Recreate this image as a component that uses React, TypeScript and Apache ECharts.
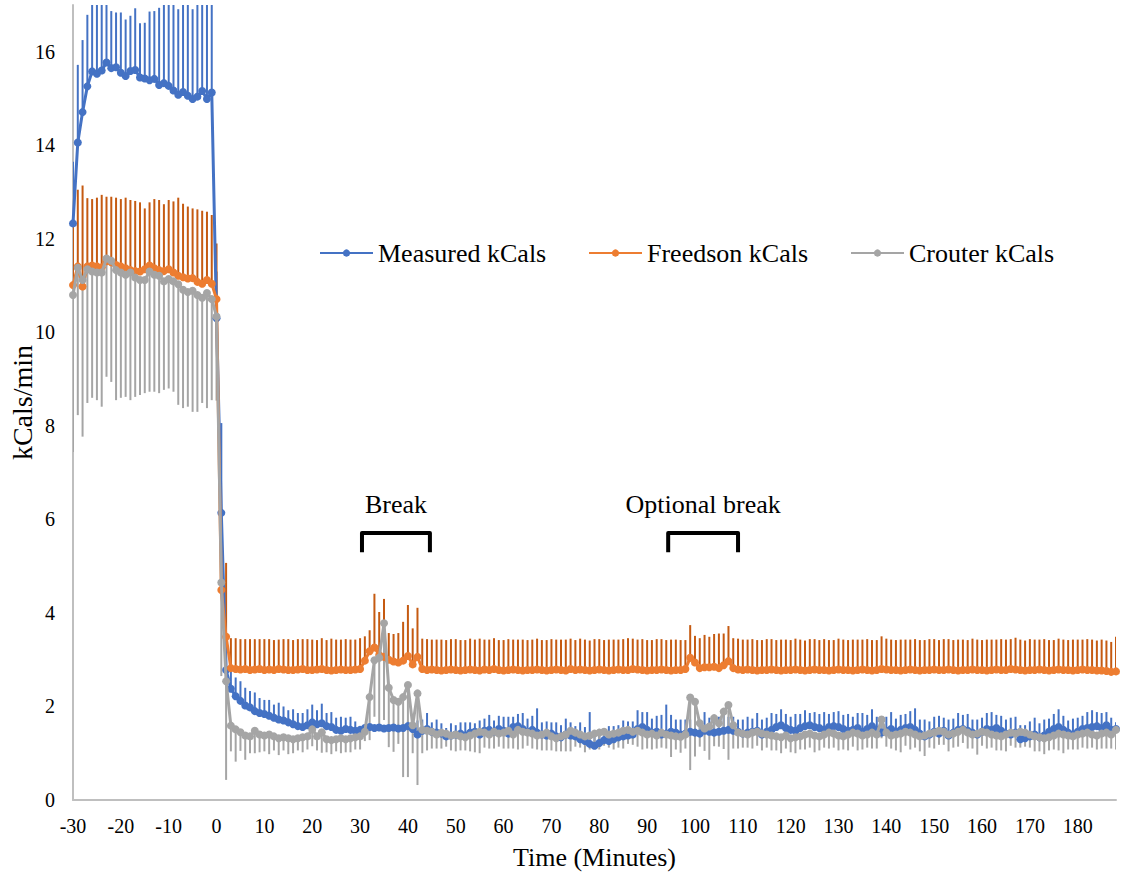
import React, { useEffect, useRef } from "react";
import * as echarts from "echarts";

// Energy expenditure per minute, one value per minute from -30 to 188.
const START_MINUTE = -30;

const measuredKcal = [
  12.33, 14.06, 14.71, 15.26, 15.58, 15.53, 15.60, 15.77, 15.65, 15.67,
  15.55, 15.48, 15.59, 15.61, 15.45, 15.43, 15.39, 15.42, 15.29, 15.33,
  15.27, 15.17, 15.08, 15.14, 15.06, 14.99, 15.04, 15.16, 14.99, 15.13,
  10.30, 6.14, 2.78, 2.38, 2.22, 2.12, 2.02, 1.98, 1.90, 1.86,
  1.84, 1.80, 1.76, 1.72, 1.70, 1.66, 1.62, 1.58, 1.56, 1.60,
  1.66, 1.62, 1.64, 1.58, 1.56, 1.50, 1.48, 1.52, 1.50, 1.48,
  1.50, 1.54, 1.56, 1.54, 1.55, 1.53, 1.54, 1.55, 1.53, 1.54,
  1.58, 1.52, 1.40, 1.48, 1.52, 1.46, 1.44, 1.42, 1.36, 1.38,
  1.40, 1.42, 1.38, 1.44, 1.46, 1.40, 1.48, 1.50, 1.46, 1.52,
  1.48, 1.42, 1.56, 1.58, 1.52, 1.46, 1.50, 1.44, 1.40, 1.38,
  1.42, 1.36, 1.34, 1.40, 1.38, 1.36, 1.30, 1.26, 1.20, 1.16,
  1.22, 1.28, 1.26, 1.30, 1.34, 1.36, 1.38, 1.40, 1.52, 1.56,
  1.50, 1.44, 1.46, 1.40, 1.42, 1.46, 1.44, 1.40, 1.42, 1.46,
  1.44, 1.42, 1.48, 1.46, 1.44, 1.46, 1.48, 1.50, 1.48, 1.46,
  1.42, 1.44, 1.46, 1.48, 1.40, 1.46, 1.50, 1.56, 1.60, 1.54,
  1.50, 1.48, 1.54, 1.58, 1.60, 1.56, 1.54, 1.50, 1.56, 1.58,
  1.56, 1.52, 1.48, 1.50, 1.54, 1.46, 1.52, 1.58, 1.50, 1.44,
  1.48, 1.52, 1.46, 1.50, 1.54, 1.56, 1.50, 1.42, 1.36, 1.40,
  1.46, 1.42, 1.48, 1.38, 1.44, 1.50, 1.52, 1.48, 1.44, 1.40,
  1.46, 1.52, 1.50, 1.54, 1.48, 1.42, 1.40, 1.44, 1.30, 1.32,
  1.36, 1.40, 1.34, 1.38, 1.46, 1.52, 1.56, 1.50, 1.44, 1.40,
  1.46, 1.52, 1.54, 1.56, 1.58, 1.54, 1.60, 1.50, 1.52,
];

const measuredErr = [
  1.32, 1.66, 1.54, 1.53, 1.90, 2.10, 1.80, 1.60, 1.22, 1.17,
  1.29, 1.21, 1.18, 1.32, 1.16, 1.19, 1.47, 1.45, 1.65, 1.90,
  1.95, 2.00, 1.83, 2.10, 2.20, 1.92, 2.20, 2.30, 2.40, 2.30,
  1.00, 1.92, 0.70, 0.45, 0.40, 0.42, 0.38, 0.35, 0.40, 0.32,
  0.30, 0.34, 0.28, 0.36, 0.30, 0.26, 0.32, 0.28, 0.30, 0.34,
  0.38, 0.30, 0.42, 0.28, 0.32, 0.26, 0.30, 0.24, 0.28, 0.20,
  0.06, 0.08, 0.05, 0.06, 0.05, 0.07, 0.05, 0.06, 0.05, 0.06,
  0.10, 0.08, 0.30, 0.24, 0.34, 0.20, 0.28, 0.22, 0.18, 0.26,
  0.20, 0.24, 0.28, 0.22, 0.18, 0.30, 0.26, 0.32, 0.24, 0.28,
  0.30, 0.36, 0.22, 0.26, 0.34, 0.28, 0.30, 0.52, 0.26, 0.30,
  0.24, 0.30, 0.26, 0.34, 0.28, 0.22, 0.36, 0.30, 0.68, 0.26,
  0.30, 0.24, 0.32, 0.28, 0.26, 0.34, 0.30, 0.28, 0.40, 0.32,
  0.38, 0.30, 0.34, 0.42, 0.62, 0.36, 0.28, 0.32, 0.30, 0.26,
  0.34, 0.28, 0.40, 0.30, 0.26, 0.32, 0.36, 0.28, 0.30, 0.26,
  0.30, 0.34, 0.28, 0.38, 0.32, 0.30, 0.36, 0.28, 0.34, 0.30,
  0.28, 0.36, 0.30, 0.34, 0.26, 0.32, 0.30, 0.38, 0.28, 0.30,
  0.34, 0.30, 0.36, 0.28, 0.32, 0.40, 0.30, 0.36, 0.28, 0.34,
  0.30, 0.36, 0.28, 0.32, 0.30, 0.34, 0.46, 0.30, 0.36, 0.28,
  0.32, 0.38, 0.28, 0.34, 0.30, 0.36, 0.30, 0.36, 0.28, 0.32,
  0.30, 0.34, 0.38, 0.28, 0.32, 0.30, 0.36, 0.34, 0.30, 0.28,
  0.32, 0.36, 0.30, 0.34, 0.28, 0.32, 0.38, 0.30, 0.26, 0.34,
  0.30, 0.28, 0.34, 0.36, 0.30, 0.32, 0.28, 0.26, 0.14,
];

const freedsonKcal = [
  11.01, 11.41, 10.98, 11.41, 11.43, 11.41, 11.39, 11.52, 11.50, 11.44,
  11.41, 11.37, 11.33, 11.31, 11.30, 11.35, 11.43, 11.37, 11.33, 11.31,
  11.35, 11.28, 11.21, 11.18, 11.15, 11.16, 11.08, 11.04, 11.12, 11.04,
  10.71, 4.49, 3.49, 2.82, 2.80, 2.79, 2.80, 2.78, 2.79, 2.80,
  2.78, 2.79, 2.78, 2.80, 2.79, 2.78, 2.78, 2.79, 2.80, 2.78,
  2.78, 2.79, 2.80, 2.78, 2.77, 2.78, 2.79, 2.78, 2.78, 2.79,
  2.80, 2.98, 3.18, 3.26, 3.10, 3.06, 3.00, 2.96, 2.94, 2.98,
  3.08, 2.90, 3.06, 2.80, 2.78, 2.79, 2.78, 2.77, 2.78, 2.79,
  2.78, 2.77, 2.78, 2.79, 2.78, 2.77, 2.79, 2.78, 2.80, 2.78,
  2.77, 2.78, 2.79, 2.78, 2.77, 2.78, 2.78, 2.79, 2.78, 2.77,
  2.78, 2.79, 2.78, 2.77, 2.80, 2.78, 2.79, 2.78, 2.77, 2.78,
  2.79, 2.78, 2.77, 2.78, 2.79, 2.78, 2.78, 2.80, 2.79, 2.78,
  2.77, 2.78, 2.78, 2.79, 2.78, 2.77, 2.78, 2.78, 2.80, 3.04,
  2.94, 2.82, 2.84, 2.84, 2.85, 2.82, 2.88, 2.97, 2.82, 2.79,
  2.78, 2.79, 2.78, 2.77, 2.78, 2.78, 2.79, 2.78, 2.77, 2.78,
  2.78, 2.79, 2.78, 2.77, 2.78, 2.79, 2.78, 2.78, 2.77, 2.78,
  2.79, 2.78, 2.78, 2.77, 2.78, 2.79, 2.78, 2.77, 2.78, 2.80,
  2.79, 2.78, 2.78, 2.77, 2.78, 2.79, 2.78, 2.77, 2.78, 2.78,
  2.79, 2.78, 2.78, 2.79, 2.78, 2.77, 2.78, 2.78, 2.79, 2.78,
  2.78, 2.77, 2.78, 2.79, 2.78, 2.78, 2.80, 2.79, 2.78, 2.77,
  2.78, 2.78, 2.79, 2.78, 2.77, 2.78, 2.79, 2.78, 2.78, 2.77,
  2.78, 2.79, 2.78, 2.78, 2.77, 2.77, 2.76, 2.74, 2.75,
];

const freedsonErr = [
  1.82, 1.64, 2.16, 1.46, 1.42, 1.47, 1.55, 1.38, 1.40, 1.44,
  1.44, 1.51, 1.50, 1.50, 1.48, 1.30, 1.35, 1.48, 1.50, 1.43,
  1.48, 1.52, 1.67, 1.57, 1.54, 1.49, 1.55, 1.56, 1.46, 1.47,
  1.19, 0.60, 1.58, 0.64, 0.66, 0.65, 0.64, 0.66, 0.65, 0.64,
  0.66, 0.65, 0.64, 0.63, 0.65, 0.66, 0.64, 0.65, 0.64, 0.66,
  0.65, 0.63, 0.66, 0.64, 0.68, 0.65, 0.64, 0.66, 0.65, 0.64,
  0.66, 0.52, 0.45, 1.15, 0.92, 1.24, 0.57, 0.59, 0.63, 0.83,
  1.09, 0.77, 1.05, 0.65, 0.66, 0.64, 0.65, 0.66, 0.64, 0.65,
  0.66, 0.65, 0.64, 0.66, 0.65, 0.68, 0.64, 0.65, 0.66, 0.64,
  0.65, 0.66, 0.64, 0.65, 0.66, 0.64, 0.65, 0.66, 0.64, 0.65,
  0.66, 0.64, 0.65, 0.66, 0.65, 0.64, 0.66, 0.65, 0.64, 0.66,
  0.65, 0.64, 0.66, 0.65, 0.64, 0.66, 0.68, 0.65, 0.64, 0.66,
  0.65, 0.64, 0.66, 0.65, 0.64, 0.66, 0.65, 0.64, 0.62, 0.70,
  0.57, 0.64, 0.69, 0.65, 0.70, 0.74, 0.68, 0.75, 0.64, 0.66,
  0.65, 0.64, 0.66, 0.65, 0.64, 0.66, 0.65, 0.64, 0.66, 0.65,
  0.64, 0.66, 0.65, 0.64, 0.66, 0.65, 0.64, 0.66, 0.65, 0.64,
  0.66, 0.65, 0.64, 0.66, 0.65, 0.64, 0.66, 0.65, 0.64, 0.70,
  0.66, 0.65, 0.64, 0.66, 0.65, 0.64, 0.66, 0.65, 0.64, 0.66,
  0.65, 0.64, 0.66, 0.65, 0.64, 0.66, 0.65, 0.64, 0.66, 0.65,
  0.64, 0.66, 0.65, 0.64, 0.66, 0.65, 0.64, 0.68, 0.65, 0.64,
  0.66, 0.65, 0.64, 0.66, 0.65, 0.64, 0.66, 0.65, 0.64, 0.66,
  0.65, 0.64, 0.66, 0.65, 0.64, 0.66, 0.65, 0.64, 0.74,
];

const crouterKcal = [
  10.80, 11.38, 11.12, 11.35, 11.30, 11.28, 11.28, 11.58, 11.53, 11.33,
  11.28, 11.23, 11.28, 11.17, 11.12, 11.12, 11.30, 11.23, 11.21, 11.09,
  11.14, 11.09, 11.03, 10.91, 10.86, 10.89, 10.80, 10.74, 10.84, 10.71,
  10.34, 4.65, 2.54, 1.59, 1.51, 1.45, 1.38, 1.36, 1.48, 1.40,
  1.38, 1.40, 1.36, 1.32, 1.34, 1.32, 1.30, 1.32, 1.34, 1.36,
  1.51, 1.36, 1.45, 1.30, 1.28, 1.30, 1.32, 1.30, 1.32, 1.34,
  1.36, 1.46, 2.20, 2.99, 3.04, 3.78, 2.40, 2.14, 2.10, 2.20,
  2.46, 1.60, 2.28, 1.50, 1.48, 1.46, 1.40, 1.44, 1.42, 1.38,
  1.40, 1.36, 1.34, 1.38, 1.42, 1.46, 1.44, 1.40, 1.46, 1.42,
  1.44, 1.48, 1.40, 1.50, 1.46, 1.44, 1.42, 1.38, 1.40, 1.44,
  1.36, 1.32, 1.36, 1.40, 1.48, 1.44, 1.40, 1.36, 1.38, 1.42,
  1.44, 1.46, 1.40, 1.42, 1.44, 1.48, 1.50, 1.46, 1.48, 1.44,
  1.40, 1.42, 1.38, 1.44, 1.40, 1.38, 1.36, 1.35, 1.40, 2.19,
  2.10, 1.64, 1.53, 1.57, 1.75, 1.64, 1.89, 2.03, 1.60, 1.44,
  1.42, 1.40, 1.44, 1.46, 1.42, 1.40, 1.38, 1.36, 1.34, 1.38,
  1.32, 1.34, 1.36, 1.40, 1.42, 1.38, 1.36, 1.40, 1.44, 1.42,
  1.38, 1.36, 1.40, 1.44, 1.42, 1.38, 1.40, 1.44, 1.40, 1.72,
  1.44, 1.38, 1.40, 1.42, 1.46, 1.44, 1.40, 1.36, 1.38, 1.42,
  1.44, 1.48, 1.46, 1.40, 1.42, 1.46, 1.50, 1.44, 1.40, 1.42,
  1.46, 1.44, 1.40, 1.38, 1.36, 1.40, 1.44, 1.42, 1.46, 1.44,
  1.40, 1.36, 1.34, 1.32, 1.34, 1.38, 1.42, 1.40, 1.38, 1.36,
  1.40, 1.42, 1.44, 1.40, 1.38, 1.42, 1.44, 1.40, 1.50,
];

const crouterErr = [
  3.36, 3.15, 3.35, 2.86, 2.70, 2.73, 2.87, 2.53, 2.59, 2.78,
  2.68, 2.61, 2.73, 2.55, 2.46, 2.42, 2.57, 2.50, 2.51, 2.32,
  2.34, 2.36, 2.58, 2.53, 2.45, 2.59, 2.50, 2.25, 2.46, 2.16,
  1.80, 2.00, 2.11, 0.55, 0.69, 0.40, 0.52, 0.36, 0.48, 0.38,
  0.34, 0.42, 0.30, 0.36, 0.28, 0.34, 0.30, 0.26, 0.32, 0.28,
  0.36, 0.30, 0.44, 0.28, 0.30, 0.26, 0.32, 0.28, 0.30, 0.26,
  0.28, 0.20, 0.92, 1.21, 1.54, 2.07, 1.27, 1.11, 0.90, 1.71,
  1.97, 0.60, 1.96, 0.50, 0.42, 0.36, 0.30, 0.34, 0.28, 0.32,
  0.36, 0.30, 0.28, 0.34, 0.40, 0.46, 0.32, 0.30, 0.36, 0.28,
  0.34, 0.38, 0.30, 0.42, 0.36, 0.28, 0.32, 0.30, 0.34, 0.38,
  0.30, 0.28, 0.32, 0.36, 0.44, 0.30, 0.28, 0.34, 0.30, 0.32,
  0.36, 0.30, 0.28, 0.34, 0.32, 0.38, 0.30, 0.28, 0.34, 0.36,
  0.30, 0.34, 0.28, 0.32, 0.30, 0.46, 0.28, 0.34, 0.30, 1.55,
  1.17, 0.50, 0.48, 0.71, 0.60, 0.50, 0.80, 1.17, 0.50, 0.34,
  0.30, 0.28, 0.34, 0.30, 0.36, 0.28, 0.32, 0.30, 0.34, 0.28,
  0.30, 0.34, 0.28, 0.32, 0.30, 0.36, 0.30, 0.28, 0.34, 0.30,
  0.32, 0.28, 0.34, 0.30, 0.36, 0.30, 0.28, 0.34, 0.30, 0.40,
  0.30, 0.28, 0.34, 0.40, 0.30, 0.36, 0.28, 0.32, 0.44, 0.30,
  0.34, 0.30, 0.28, 0.36, 0.30, 0.32, 0.28, 0.34, 0.30, 0.45,
  0.30, 0.34, 0.28, 0.32, 0.30, 0.36, 0.28, 0.30, 0.34, 0.30,
  0.28, 0.32, 0.30, 0.34, 0.28, 0.30, 0.36, 0.40, 0.30, 0.28,
  0.32, 0.30, 0.34, 0.28, 0.30, 0.32, 0.34, 0.30, 0.42,
];

const minutes = measuredKcal.map((_, i) => START_MINUTE + i);

// Rest periods marked with a bracket above the curves (minutes).
const breaks = [
  { label: "Break", from: 30.4, to: 44.6 },
  { label: "Optional break", from: 94.4, to: 109.0 },
];

const FONT = "'Liberation Serif', 'Times New Roman', serif";
const AXIS_GRAY = "#BFBFBF";

const BRACKET_LOW = 5.3;
const BRACKET_HIGH = 5.71;
const BRACKET_LABEL_Y = 6.32;

type SeriesDef = {
  name: string;
  values: number[];
  errs: number[];
  dir: 1 | -1;
  color: string;
  barColor: string;
};

const seriesDefs: SeriesDef[] = [
  { name: "Measured kCals", values: measuredKcal, errs: measuredErr, dir: 1, color: "#4472C4", barColor: "#4472C4" },
  { name: "Freedson kCals", values: freedsonKcal, errs: freedsonErr, dir: 1, color: "#ED7D31", barColor: "#C55A11" },
  { name: "Crouter kCals", values: crouterKcal, errs: crouterErr, dir: -1, color: "#A5A5A5", barColor: "#A5A5A5" },
];

const legendLeft = [319, 588, 850];

function errorBars(def: SeriesDef) {
  return {
    type: "custom",
    name: def.name + " SD",
    silent: true,
    clip: true,
    z: 1,
    encode: { x: 0, y: [1, 2] },
    data: def.values.map((v, i) => [minutes[i], v, v + def.dir * def.errs[i]]),
    renderItem: (_params: any, api: any) => {
      const a = api.coord([api.value(0), api.value(1)]);
      const b = api.coord([api.value(0), api.value(2)]);
      return {
        type: "line",
        shape: { x1: a[0], y1: a[1], x2: b[0], y2: b[1] },
        style: { stroke: def.barColor, lineWidth: 2 },
      };
    },
  };
}

function lineSeries(def: SeriesDef, idx: number) {
  return {
    type: "line",
    name: def.name,
    z: 3 + idx,
    symbol: "circle",
    symbolSize: 8,
    showSymbol: true,
    lineStyle: { color: def.color, width: 3 },
    itemStyle: { color: def.color },
    emphasis: { disabled: true },
    data: def.values.map((v, i) => [minutes[i], v]),
  };
}

export default function App() {
  const ref = useRef<HTMLDivElement>(null);

  useEffect(() => {
    if (!ref.current) return;
    const chart = echarts.init(ref.current, null, { renderer: "svg" });

    const bracketSeries = {
      type: "custom",
      silent: true,
      z: 10,
      clip: false,
      data: breaks.map((b) => [b.from, b.to]),
      renderItem: (params: any, api: any) => {
        const from = api.value(0);
        const to = api.value(1);
        const p1 = api.coord([from, BRACKET_LOW]);
        const p2 = api.coord([from, BRACKET_HIGH]);
        const p3 = api.coord([to, BRACKET_HIGH]);
        const p4 = api.coord([to, BRACKET_LOW]);
        const ly = api.coord([from, BRACKET_LABEL_Y])[1];
        return {
          type: "group",
          children: [
            {
              type: "polyline",
              shape: { points: [p1, p2, p3, p4] },
              style: { stroke: "#000", lineWidth: 4, fill: null, lineJoin: "round", lineCap: "butt" },
            },
            {
              type: "text",
              x: (p2[0] + p3[0]) / 2,
              y: ly,
              style: {
                text: breaks[params.dataIndex].label,
                fontFamily: FONT,
                fontSize: 26,
                fill: "#000",
                align: "center",
                verticalAlign: "middle",
              },
            },
          ],
        };
      },
    };

    chart.setOption({
      animation: false,
      backgroundColor: "#fff",
      grid: {
        left: 73,
        right: 10,
        top: 5,
        bottom: 78,
        containLabel: false,
        outerBoundsMode: "none",
      },
      legend: seriesDefs.map((d, k) => ({
        data: [d.name],
        left: legendLeft[k],
        top: 240,
        padding: 0,
        itemWidth: 53,
        itemHeight: 9,
        selectedMode: false,
        textStyle: { fontFamily: FONT, fontSize: 26, color: "#000" },
      })),
      xAxis: {
        type: "value",
        min: START_MINUTE,
        max: minutes[minutes.length - 1],
        interval: 10,
        name: "Time (Minutes)",
        nameLocation: "middle",
        nameGap: 44,
        nameMoveOverlap: false,
        nameTextStyle: { fontFamily: FONT, fontSize: 26, color: "#000" },
        axisLine: { show: true, onZero: false, lineStyle: { color: AXIS_GRAY, width: 2 } },
        axisTick: { show: false },
        splitLine: { show: false },
        axisLabel: { fontFamily: FONT, fontSize: 20, color: "#000", margin: 16, showMaxLabel: false },
      },
      yAxis: {
        type: "value",
        min: 0,
        max: 17,
        interval: 2,
        name: "kCals/min",
        nameLocation: "middle",
        nameGap: 37,
        nameMoveOverlap: false,
        nameTextStyle: { fontFamily: FONT, fontSize: 28, color: "#000" },
        axisLine: { show: true, onZero: false, lineStyle: { color: AXIS_GRAY, width: 2 } },
        axisTick: { show: false },
        splitLine: { show: false },
        axisLabel: { fontFamily: FONT, fontSize: 20, color: "#000", margin: 18, showMaxLabel: false },
      },
      series: [
        ...seriesDefs.map(errorBars),
        ...seriesDefs.map(lineSeries),
        bracketSeries,
      ],
    });

    return () => chart.dispose();
  }, []);

  return (
    <div
      ref={ref}
      style={{ position: "fixed", left: 0, top: 0, width: 1126, height: 878, background: "#fff" }}
    />
  );
}
